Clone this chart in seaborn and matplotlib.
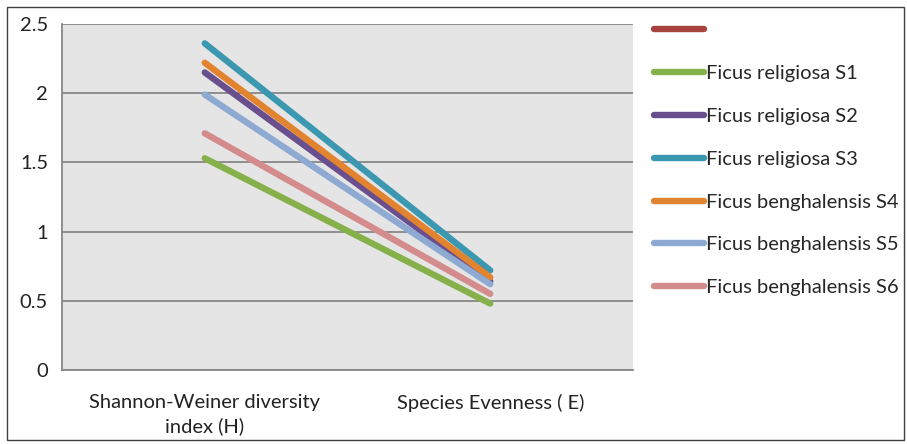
import matplotlib
matplotlib.use("Agg")
import matplotlib.pyplot as plt
import seaborn as sns
import pandas as pd
from matplotlib.lines import Line2D
from matplotlib.patches import Rectangle

categories = ["Shannon-Weiner diversity\nindex (H)", "Species Evenness ( E)"]
series_names = ["Ficus religiosa S1", "Ficus religiosa S2", "Ficus religiosa S3",
                "Ficus benghalensis S4", "Ficus benghalensis S5", "Ficus benghalensis S6"]
s1 = [1.53, 0.48]
s2 = [2.15, 0.64]
s3 = [2.36, 0.72]
s4 = [2.22, 0.67]
s5 = [1.99, 0.62]
s6 = [1.71, 0.55]
values = [s1, s2, s3, s4, s5, s6]
colors = ["#86B04A", "#6A4F8E", "#3C97B0", "#E2832F", "#8EA9D2", "#D48B8B"]
empty_color = "#A8423F"
yticks = [0, 0.5, 1, 1.5, 2, 2.5]
ytick_labels = ["0", "0.5", "1", "1.5", "2", "2.5"]

sns.set_style("white")
plt.rcParams["font.family"] = ["Lato", "DejaVu Sans"]

rows = []
for name, vals in zip(series_names, values):
    for c, v in zip(categories, vals):
        rows.append({"cat": c, "val": v, "series": name})
df = pd.DataFrame(rows)

FS = 14.5
fig = plt.figure(figsize=(9.07, 4.44), dpi=100)
ax = fig.add_axes([62/907, 74/444, (633-62)/907, (370-24)/444])
ax.set_facecolor("#E5E5E5")
ax.set_axisbelow(True)

sns.lineplot(data=df, x="cat", y="val", hue="series", hue_order=series_names,
             palette=colors, linewidth=4.6, solid_capstyle="round",
             legend=False, ax=ax, sort=False)

ax.set_xlim(-0.5, 1.5)
ax.set_ylim(0, 2.5)
ax.set_yticks(yticks)
ax.set_yticklabels(ytick_labels, fontsize=FS, color="#222222")
ax.set_xticks([0, 1])
ax.set_xticklabels(categories, fontsize=FS, color="#222222", linespacing=1.45)
ax.set_xticks([-0.5, 0.5, 1.5], minor=True)
ax.tick_params(axis="x", which="major", length=0, pad=17)
ax.tick_params(axis="x", which="minor", length=5, color="#878787", width=1.3, direction="out")
ax.tick_params(axis="y", length=6, color="#878787", width=1.3, direction="out", pad=4)
ax.set_xlabel("")
ax.set_ylabel("")
ax.grid(axis="y", color="#878787", linewidth=1.3)
ax.grid(axis="x", visible=False)
for sp in ["top", "right"]:
    ax.spines[sp].set_visible(False)
for sp in ["left", "bottom"]:
    ax.spines[sp].set_color("#878787")
    ax.spines[sp].set_linewidth(1.3)

handles = [Line2D([], [], color=empty_color, linewidth=4.6, solid_capstyle="round")]
labels = [""]
for name, col in zip(series_names, colors):
    handles.append(Line2D([], [], color=col, linewidth=4.6, solid_capstyle="round"))
    labels.append(name)
fig.legend(handles, labels, loc="upper left", bbox_to_anchor=(654/907, 1 - 22/444),
           frameon=False, fontsize=FS, handlelength=2.5, handletextpad=0.1,
           labelspacing=1.28, borderaxespad=0, borderpad=0)

fig.patches.append(Rectangle((7/907, 4/444), 897/907, 433/444, transform=fig.transFigure,
                             fill=False, edgecolor="#404040", linewidth=1))

fig.savefig("out.png", dpi=100)
